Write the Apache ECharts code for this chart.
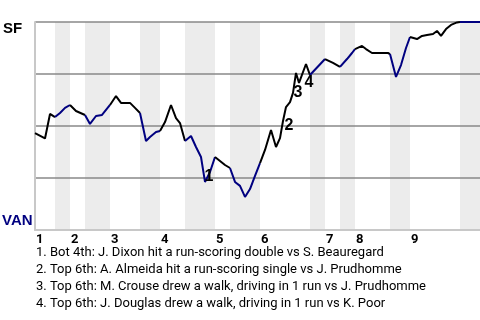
<!DOCTYPE html>
<html><head><meta charset="utf-8">
<script src="https://cdn.jsdelivr.net/npm/echarts@6/dist/echarts.min.js"></script>
<style>html,body{margin:0;padding:0;background:#fff;overflow:hidden}#c{width:480px;height:320px}</style>
</head><body><div id="c"></div>
<script>
// Game progress (plate appearances) and SF win probability
const progress = [0,2,3,4,5,6,7,8.2,10,11,12.2,13.4,15,16.2,17.2,19,20,21,22.2,23,24.2,25,26,27.2,28.2,29,30,31.2,32.2,33.2,34,35,36,37,38,39,40,41,42,43,44,45,46,47.2,48.2,49,49.6,50.2,51,51.6,52.2,52.8,54.2,55,58,59.6,61,62.4,63.4,64,65.4,66.2,67.4,70.6,71,72.2,73.2,74.2,75,76.4,77.4,78.4,79.6,80.4,81.2,82.2,83.2,84.4,85,89];
const sfWinProb = [0.466,0.44,0.558,0.543,0.5625,0.587,0.601,0.572,0.553,0.51,0.548,0.553,0.601,0.644,0.611,0.611,0.587,0.5625,0.428,0.447,0.471,0.476,0.519,0.601,0.538,0.514,0.428,0.452,0.399,0.351,0.231,0.279,0.351,0.332,0.3125,0.298,0.231,0.212,0.159,0.197,0.26,0.322,0.385,0.481,0.399,0.442,0.524,0.591,0.615,0.659,0.755,0.707,0.798,0.745,0.822,0.803,0.784,0.822,0.851,0.870,0.885,0.870,0.851,0.851,0.846,0.736,0.793,0.875,0.928,0.918,0.933,0.9375,0.942,0.957,0.933,0.966,0.986,0.998,1.0,1.0];
// Half-inning boundaries (top 1, bottom 1, top 2, ...)
const halfInningBounds = [0,4,7,10,15,21,25,30,36,39,45,55,58,61,64,71,75,85,89];
const inningNumbers = ['1','2','3','4','5','6','7','8','9'];
const teamTop = 'SF';
const teamBottom = 'VAN';
const eventNotes = [
  '1. Bot 4th: J. Dixon hit a run-scoring double vs S. Beauregard',
  '2. Top 6th: A. Almeida hit a run-scoring single vs J. Prudhomme',
  '3. Top 6th: M. Crouse drew a walk, driving in 1 run vs J. Prudhomme',
  '4. Top 6th: J. Douglas drew a walk, driving in 1 run vs K. Poor'
];
const markerLabels = ['1','2','3','4'];
const markerX = [34.8,50.8,52.6,54.8];
const markerY = [0.255,0.502,0.663,0.707];

const TOP_COLOR = '#000000', BOT_COLOR = '#000080';
const FONT = 'Roboto';

const points = progress.map((x,i)=>[x, sfWinProb[i]]);
const series = [];
// shaded bottom-half bands, drawn as filled line areas under the grid lines
for (let h = 1; h < halfInningBounds.length - 1; h += 2) {
  const s = halfInningBounds[h], e = halfInningBounds[h+1];
  series.push({
    type: 'line', z: -1, silent: true, symbol: 'none', clip: false,
    data: [[s, 1], [e, 1]],
    lineStyle: {width: 0, opacity: 0},
    areaStyle: {color: '#ececec', opacity: 1, origin: 'start'}
  });
}
for (let h = 0; h < halfInningBounds.length - 1; h++) {
  const s = halfInningBounds[h], e = halfInningBounds[h+1];
  const isTop = h % 2 === 0;
  series.push({
    type: 'line', data: points.filter(p => p[0] >= s && p[0] <= e),
    showSymbol: false, symbol: 'none', silent: true, z: 3,
    lineStyle: {color: isTop ? TOP_COLOR : BOT_COLOR, width: 2}
  });
}
series.push({
  type: 'scatter', symbolSize: 0, z: 4, silent: true,
  itemStyle: {opacity: 1},
  data: markerLabels.map((t,i)=>[markerX[i], markerY[i], t]),
  label: {show: true, position: 'inside', formatter: p => p.data[2],
    color: '#000', textBorderWidth: 0, fontFamily: 'Liberation Sans', fontWeight: 'bold', fontSize: 16}
});

const inningStarts = halfInningBounds.filter((b,i)=> i % 2 === 0 && i < halfInningBounds.length - 1);

const chart = echarts.init(document.getElementById('c'), null, {renderer: 'canvas'});
chart.setOption({
  animation: false,
  grid: {left: 35, right: 0, top: 22, bottom: 90},
  xAxis: {
    type: 'value', min: 0, max: 89,
    splitLine: {show: false}, axisTick: {show: false},
    axisLine: {show: true, lineStyle: {color: '#c8c8c8', width: 2}},
    axisLabel: {
      customValues: inningStarts, align: 'left', margin: 3,
      formatter: v => inningNumbers[inningStarts.indexOf(v)],
      color: '#000', fontWeight: 'bold', fontSize: 13, fontFamily: FONT, padding: [0,0,0,1]
    }
  },
  yAxis: {
    type: 'value', min: 0, max: 1, interval: 0.25,
    axisLabel: {show: false}, axisTick: {show: false},
    axisLine: {show: true, lineStyle: {color: '#c8c8c8', width: 2}},
    splitLine: {show: true, lineStyle: {color: '#888', width: 1.5}}
  },
  graphic: [
    {type: 'text', left: 3, top: 21, style: {text: teamTop, fill: '#000', font: 'bold 15px "Liberation Sans"'}},
    {type: 'text', left: 2, top: 213, style: {text: teamBottom, fill: BOT_COLOR, font: 'bold 15px "Liberation Sans"'}}
  ].concat(eventNotes.map((t,i)=>({
    type: 'text', left: 36, top: 246 + i*17,
    style: {text: t, fill: '#000', font: '13px ' + FONT}
  }))),
  series: series
});
</script></body></html>
